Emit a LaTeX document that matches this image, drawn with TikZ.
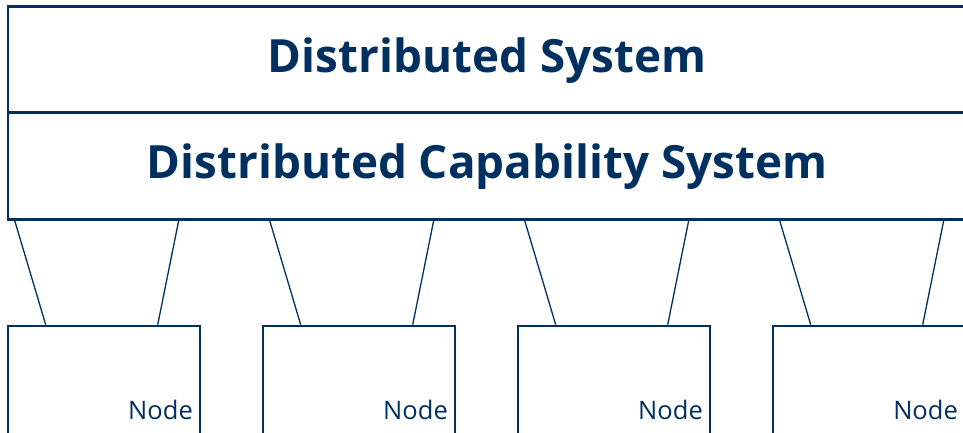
\documentclass[tikz,border=0pt]{standalone}
\usepackage{fontspec}
\setmainfont{Open Sans}
\usetikzlibrary{calc}
\definecolor{navy}{HTML}{00305F}
\tikzset{
  layer/.style={draw=navy, line width=2.6pt, fill=white, minimum width=958pt, minimum height=106.5pt, inner sep=0pt},
  title/.style={text=navy, font=\bfseries\fontsize{45.8}{50}\selectfont, anchor=base, inner sep=0pt},
  nodebox/.style={draw=navy, line width=2.6pt, minimum width=192pt, minimum height=120pt, inner sep=0pt},
  nodelabel/.style={text=navy, font=\fontsize{25.5}{28}\selectfont, anchor=base east, inner sep=0pt},
  link/.style={draw=navy, line width=1.3pt}
}
\begin{document}
\begin{tikzpicture}[x=1pt,y=-1pt]
\useasboundingbox (0,0) rectangle (963,432);
\node[layer] (ds) at (487,59.5) {};
\node[layer] (dcs) at (487,166) {};
\node[title] (tds) at (487,72) {Distributed System};
\node[title] (tdcs) at (487,178) {Distributed Capability System};
\foreach \i in {0,1,2,3} {
  \node[nodebox] (n\i) at ({104+255*\i},386) {};
  \node[nodelabel] (l\i) at ({193+255*\i},419) {Node};
  \draw[link] ($(dcs.south west)+({8+255*\i},0)$) -- ($(n\i.north west)+(39,0)$);
  \draw[link] ($(dcs.south west)+({172+255*\i},0)$) -- ($(n\i.north west)+(151,0)$);
}
\end{tikzpicture}
\end{document}
